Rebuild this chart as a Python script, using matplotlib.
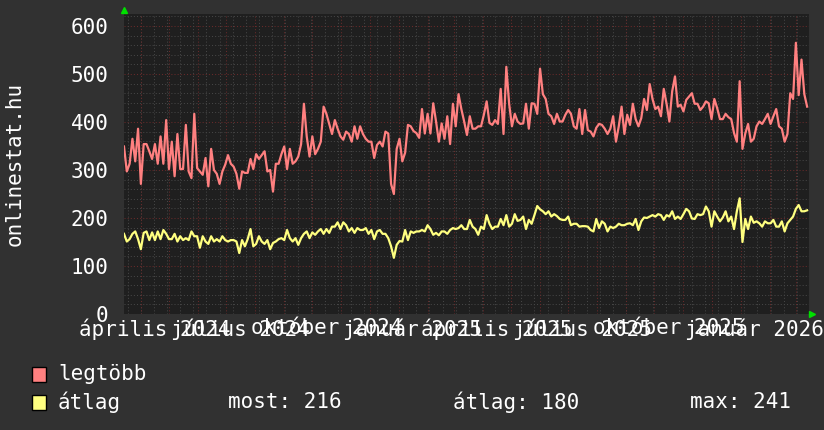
import matplotlib
matplotlib.use('Agg')
import matplotlib.pyplot as plt
import matplotlib.dates as mdates
from matplotlib.patches import Rectangle
import numpy as np

# Data: one sample every 3 days, starting 2024-03-14
start = np.datetime64('2024-03-14')
step_days = 3
span_days = 731

legtobb = [
    349, 297, 313, 365, 318, 386, 271, 354, 354, 339, 323, 354, 313, 370, 313, 404,
    302, 359, 287, 375, 302, 302, 394, 297, 283, 417, 304, 297, 290, 325, 266, 344,
    300, 292, 271, 297, 311, 331, 313, 307, 292, 261, 297, 294, 294, 323, 302, 333,
    323, 331, 339, 297, 300, 255, 313, 313, 333, 349, 302, 344, 313, 318, 328, 354,
    438, 370, 328, 370, 333, 344, 359, 432, 417, 396, 375, 404, 386, 370, 363, 380,
    375, 359, 391, 365, 391, 375, 365, 359, 359, 325, 352, 359, 349, 380, 376, 271,
    250, 344, 365, 318, 336, 394, 391, 381, 377, 367, 427, 376, 417, 376, 439, 401,
    359, 397, 365, 412, 354, 438, 391, 458, 427, 401, 373, 412, 386, 386, 391, 391,
    415, 443, 398, 394, 404, 396, 469, 375, 515, 438, 391, 417, 401, 396, 397,
    438, 386, 439, 438, 417, 511, 458, 448, 417, 412, 396, 417, 401, 401, 415, 425,
    417, 391, 386, 427, 375, 425, 383, 380, 370, 388, 396, 394, 386, 375, 386, 412,
    359, 391, 432, 375, 415, 394, 438, 406, 391, 408, 448, 425, 479, 448, 427, 432,
    412, 469, 438, 401, 464, 495, 432, 436, 422, 446, 453, 460, 438, 438, 425, 432,
    443, 439, 406, 448, 429, 406, 406, 417, 410, 406, 377, 359, 485, 344, 376, 396,
    359, 365, 391, 401, 396, 406, 417, 396, 412, 427, 391, 386, 359, 375, 460, 448,
    565, 456, 530, 458, 432,
]

atlag = [
    167, 151, 156, 167, 172, 156, 135, 169, 172, 154, 170, 154, 172, 156, 175, 167,
    156, 156, 167, 151, 162, 154, 158, 154, 172, 162, 162, 138, 162, 151, 146, 162,
    151, 156, 151, 162, 154, 151, 154, 154, 151, 127, 154, 141, 156, 177, 141, 146,
    162, 151, 146, 154, 135, 148, 151, 156, 158, 154, 175, 158, 151, 158, 144, 158,
    167, 172, 158, 170, 165, 172, 177, 167, 177, 169, 182, 182, 191, 177, 191, 185,
    172, 179, 169, 179, 175, 175, 179, 167, 175, 156, 172, 175, 167, 167, 158, 141,
    117, 144, 152, 151, 175, 154, 172, 169, 172, 172, 175, 172, 185, 177, 165, 169,
    164, 172, 172, 167, 175, 179, 177, 179, 185, 177, 177, 196, 182, 177, 165, 182,
    177, 206, 188, 177, 182, 182, 198, 185, 206, 182, 188, 208, 194, 196, 203,
    177, 196, 188, 206, 225, 218, 214, 208, 214, 203, 208, 204, 198, 196, 196, 203,
    185, 188, 188, 182, 183, 183, 182, 175, 172, 198, 179, 193, 188, 172, 182, 179,
    182, 188, 185, 185, 188, 189, 185, 198, 175, 193, 201, 200, 203, 206, 203, 208,
    206, 196, 206, 203, 214, 198, 203, 198, 208, 219, 214, 199, 198, 208, 206, 208,
    224, 214, 182, 214, 203, 193, 201, 214, 193, 203, 177, 214, 241, 150, 198, 177,
    203, 190, 193, 189, 182, 193, 189, 189, 196, 182, 182, 193, 172, 189, 196, 203,
    219, 227, 214, 214, 216,
]

label_months = ['2024-04', '2024-07', '2024-10', '2025-01',
                '2025-04', '2025-07', '2025-10', '2026-01']
label_texts = ['április 2024', 'július 2024', 'október 2024', 'január 2025',
               'április 2025', 'július 2025', 'október 2025', 'január 2026']
y_ticks = [0, 100, 200, 300, 400, 500, 600]
stat_most, stat_atlag, stat_max = 216, 180, 241

# Colors
bg = '#313131'
plot_bg = '#1f1f1f'
red = '#ff8080'
yellow = '#ffff80'
txt = '#ffffff'
grid_minor = '#454545'
grid_major = '#682a2a'

plt.rcParams['font.family'] = ['DejaVu Sans Mono']
fs = 15

fig = plt.figure(figsize=(8.24, 4.30), dpi=100, facecolor=bg)
ax = fig.add_axes([124 / 824, (430 - 314) / 430, 685 / 824, 300 / 430])
ax.set_facecolor(plot_bg)

dates = start + np.arange(len(legtobb)) * np.timedelta64(step_days, 'D')
end = start + np.timedelta64(span_days, 'D')
x0 = mdates.date2num(start)
x1 = mdates.date2num(end)
d0, d1 = mdates.num2date(x0), mdates.num2date(x1)

# grid: gray every 20 / 2 weeks, dark red every 100 / month
for v in range(0, 626, 20):
    c = grid_major if v % 100 == 0 else grid_minor
    ax.axhline(v, color=c, lw=0.75, ls=(0, (1, 2)), zorder=1)
for t in mdates.WeekdayLocator(byweekday=mdates.MO, interval=2).tick_values(d0, d1):
    ax.axvline(t, color=grid_minor, lw=0.75, ls=(0, (1, 2)), zorder=1)
for t in mdates.MonthLocator().tick_values(d0, d1):
    ax.axvline(t, color=grid_major, lw=0.75, ls=(0, (1, 2)), zorder=1)

ax.plot(dates, legtobb, color=red, lw=1.6, zorder=3)
ax.plot(dates, atlag, color=yellow, lw=1.6, zorder=3)

ax.set_xlim(x0, x1)
ax.set_ylim(0, 625)

# labels centred in the middle of their month
label_pos = [mdates.date2num(np.datetime64(m + '-01') + np.timedelta64(15, 'D'))
             for m in label_months]
ax.set_xticks(label_pos)
ax.set_xticklabels(label_texts)
ax.set_yticks(y_ticks)
ax.tick_params(axis='x', length=0, pad=3, colors=txt, labelsize=fs)
ax.tick_params(axis='y', length=0, pad=11, colors=txt, labelsize=fs)
for s in ax.spines.values():
    s.set_visible(False)

# axis arrows
ax.plot([0], [1.012], marker='^', color='#00e000', ms=5, transform=ax.transAxes,
        clip_on=False, zorder=5)
ax.plot([1.004], [0], marker='>', color='#00e000', ms=5, transform=ax.transAxes,
        clip_on=False, zorder=5)

fig.text(15 / 824, 1 - 164 / 430, 'onlinestat.hu', rotation=90, color=txt,
         fontsize=fs, ha='center', va='center')

# legend
for yc, col, name in [(374, red, 'legtöbb'), (402, yellow, 'átlag')]:
    fig.add_artist(Rectangle((32 / 824, (430 - yc - 7.5) / 430), 14 / 824, 15 / 430,
                             facecolor=col, edgecolor='black', lw=1,
                             transform=fig.transFigure))
    fig.text(58 / 824, 1 - yc / 430, name, color=txt, fontsize=fs, va='center')

fig.text(228 / 824, 1 - 402 / 430, f'most: {stat_most}', color=txt, fontsize=fs, va='center')
fig.text(453 / 824, 1 - 402 / 430, f'átlag: {stat_atlag}', color=txt, fontsize=fs, va='center')
fig.text(690 / 824, 1 - 402 / 430, f'max: {stat_max}', color=txt, fontsize=fs, va='center')

fig.savefig('out.png', dpi=100, facecolor=bg)
